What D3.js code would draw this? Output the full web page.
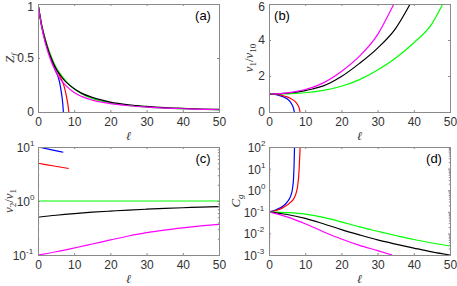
<!DOCTYPE html>
<html>
<head>
<meta charset="utf-8">
<script src="https://cdn.jsdelivr.net/npm/d3@7/dist/d3.min.js"></script>
<style>
  body { margin: 0; background: #fff; }
  svg { display: block; }
  text { font-family: "Liberation Sans", Arial, sans-serif; }
</style>
</head>
<body>
<svg id="chart" width="457" height="286"></svg>
<script>
// x ticks shared by every panel
const ellTicks = [0, 10, 20, 30, 40, 50];

// (a) Z_f vs ell
const zfBlue = [[0,1],[1,0.8],[2,0.66],[3,0.55],[4,0.455],[5,0.37],[5.5,0.33],[6,0.27],[6.5,0.17],[6.8,0.09],[6.95,0.03],[7,0]];
const zfRed = [[0,1],[1,0.81],[2,0.675],[3,0.565],[4,0.475],[5,0.4],[6,0.335],[6.5,0.3],[7,0.26],[7.5,0.2],[8,0.12],[8.3,0.06],[8.5,0]];
const zfGreen = [[0,1],[1,0.81],[2,0.675],[3,0.57],[4,0.485],[5,0.415],[6,0.36],[7,0.315],[8,0.275],[10,0.215],[12,0.17],[15,0.125],[20,0.085],[25,0.061],[30,0.046],[35,0.036],[40,0.029],[45,0.024],[50,0.02]];
const zfBlack = [[0,1],[1,0.8],[2,0.665],[3,0.555],[4,0.47],[5,0.4],[6,0.35],[7,0.305],[8,0.27],[10,0.215],[12,0.175],[15,0.135],[20,0.092],[25,0.067],[30,0.052],[35,0.041],[40,0.034],[45,0.028],[50,0.024]];
const zfMagenta = [[0,1],[1,0.79],[2,0.64],[3,0.53],[4,0.44],[5,0.37],[6,0.31],[7,0.27],[8,0.235],[10,0.18],[12,0.145],[15,0.11],[20,0.078],[25,0.058],[30,0.045],[35,0.036],[40,0.03],[45,0.025],[50,0.021]];

// (b) v1/v10 vs ell
const v1Blue = [[0,1],[1,0.99],[2,0.96],[3,0.91],[4,0.84],[5,0.73],[5.5,0.65],[6,0.53],[6.5,0.35],[6.8,0.18],[7,0]];
const v1Red = [[0,1],[1,0.995],[2,0.98],[3,0.95],[4,0.9],[5,0.84],[6,0.75],[7,0.62],[7.5,0.52],[8,0.37],[8.3,0.24],[8.6,0]];
const v1Green = [[0,1],[5,1.01],[10,1.07],[15,1.2],[20,1.43],[25,1.8],[30,2.33],[35,3.0],[40,3.85],[45,4.9],[48,6]];
const v1Black = [[0,1],[2,1],[4,1.03],[6,1.07],[8,1.12],[10,1.19],[12,1.28],[15,1.45],[20,1.97],[25,2.7],[30,3.55],[35,4.65],[39,6]];
const v1Magenta = [[0,1],[2,1.01],[4,1.04],[6,1.09],[8,1.16],[10,1.25],[12,1.37],[15,1.62],[20,2.25],[25,3.1],[30,4.3],[34,5.8],[34.5,6]];

// (c) v2/v1 vs ell
const v2Blue = [[0,10],[3.5,8.95],[7,8]];
const v2Red = [[0,5],[4,4.5],[8.5,4]];
const v2Green = [[0,1],[50,1]];
const v2Black = [[0,0.5],[5,0.545],[10,0.585],[15,0.62],[20,0.65],[25,0.68],[30,0.705],[35,0.73],[40,0.75],[45,0.77],[50,0.79]];
const v2Magenta = [[0,0.1],[5,0.115],[10,0.135],[15,0.16],[20,0.19],[25,0.225],[30,0.26],[35,0.29],[40,0.318],[45,0.345],[50,0.37]];

// (d) C_g vs ell
const cgBlue = [[0,0.1],[2,0.125],[4,0.19],[5,0.28],[6,0.55],[6.5,1.2],[6.8,4],[6.95,20],[7.05,100]];
const cgRed = [[0,0.1],[2,0.115],[4,0.16],[6,0.28],[7,0.45],[7.5,0.75],[8,2],[8.3,8],[8.5,40],[8.6,100]];
const cgGreen = [[0,0.1],[5,0.092],[10,0.078],[15,0.055],[20,0.034],[25,0.02],[30,0.0126],[35,0.008],[40,0.0052],[45,0.0036],[50,0.0026]];
const cgBlack = [[0,0.1],[5,0.075],[10,0.05],[15,0.028],[20,0.015],[25,0.0085],[30,0.005],[35,0.0032],[40,0.0021],[45,0.0014],[50,0.001]];
const cgMagenta = [[0,0.1],[5,0.058],[10,0.028],[15,0.012],[20,0.0055],[25,0.0028],[30,0.0016],[34,0.001]];

const colors = { blue: '#0000ff', red: '#ff0000', green: '#00ff00', black: '#000000', magenta: '#ff00ff' };
const axisColor = '#8a8a8a';
const textColor = '#333333';

const panels = [
  { x: 38, y: 4, tag: '(a)', tagPos: 'right', log: false, yDomain: [0, 1], yTicks: [0, 0.5, 1],
    yLabel: [['Z', 0], ['f', 1]], yLabelX: 14,
    series: [[zfBlue, 'blue'], [zfRed, 'red'], [zfGreen, 'green'], [zfBlack, 'black'], [zfMagenta, 'magenta']] },
  { x: 269, y: 4, tag: '(b)', tagPos: 'left', log: false, yDomain: [0, 6], yTicks: [0, 2, 4, 6],
    yLabel: [['v', 0], ['1', 2], ['/', 3], ['v', 0], ['10', 2]], yLabelX: 253,
    series: [[v1Blue, 'blue'], [v1Red, 'red'], [v1Green, 'green'], [v1Black, 'black'], [v1Magenta, 'magenta']] },
  { x: 38, y: 147, tag: '(c)', tagPos: 'right', log: true, yDomain: [0.1, 10], yExp: [-1, 0, 1],
    yLabel: [['v', 0], ['2', 2], ['/', 3], ['v', 0], ['1', 2]], yLabelX: 13,
    series: [[v2Blue, 'blue'], [v2Red, 'red'], [v2Green, 'green'], [v2Black, 'black'], [v2Magenta, 'magenta']] },
  { x: 269, y: 147, tag: '(d)', tagPos: 'right', log: true, yDomain: [1e-3, 100], yExp: [-3, -2, -1, 0, 1, 2],
    yLabel: [['C', 0], ['g', 1]], yLabelX: 240,
    series: [[cgBlue, 'blue'], [cgRed, 'red'], [cgGreen, 'green'], [cgBlack, 'black'], [cgMagenta, 'magenta']] }
];

const W = 181, H = 108, tickLen = 2;
const svg = d3.select('#chart');

panels.forEach((p, pi) => {
  const g = svg.append('g').attr('transform', `translate(${p.x},${p.y})`);

  const xScale = d3.scaleLinear().domain([0, 50]).range([0, W]);
  const yScale = (p.log ? d3.scaleLog() : d3.scaleLinear()).domain(p.yDomain).range([H, 0]);

  // clip so curves leaving the box are cut at the frame
  const clipId = 'clip' + pi;
  g.append('clipPath').attr('id', clipId)
    .append('rect').attr('width', W).attr('height', H);

  const line = d3.line()
    .x(d => xScale(d[0]))
    .y(d => yScale(d[1]))
    .curve(d3.curveMonotoneX);

  g.append('g').attr('clip-path', `url(#${clipId})`)
    .selectAll('path')
    .data(p.series)
    .enter()
    .append('path')
    .attr('d', d => line(d[0]))
    .attr('fill', 'none')
    .attr('stroke', d => colors[d[1]])
    .attr('stroke-width', 1.2);

  // frame
  g.append('rect')
    .attr('width', W).attr('height', H)
    .attr('fill', 'none')
    .attr('stroke', axisColor)
    .attr('stroke-width', 1)
    .attr('shape-rendering', 'crispEdges');

  // x ticks (inward, top and bottom)
  const xAxisB = g.append('g').attr('transform', `translate(0,${H})`)
    .call(d3.axisBottom(xScale).tickValues(ellTicks).tickSizeInner(-tickLen).tickSizeOuter(0).tickPadding(5));
  const xAxisT = g.append('g')
    .call(d3.axisTop(xScale).tickValues(ellTicks).tickSizeInner(-tickLen).tickSizeOuter(0).tickFormat(''));
  [xAxisB, xAxisT].forEach(a => {
    a.select('.domain').remove();
    a.selectAll('.tick line').attr('stroke', axisColor);
  });
  xAxisB.selectAll('text').attr('fill', textColor).style('font-size', '12px');

  // y ticks
  let majors, minors = [];
  if (p.log) {
    majors = p.yExp.map(e => Math.pow(10, e));
    for (let e = p.yExp[0]; e < p.yExp[p.yExp.length - 1]; e++) {
      for (let k = 2; k <= 9; k++) minors.push(k * Math.pow(10, e));
    }
  } else {
    majors = p.yTicks;
  }
  const yAxisL = g.append('g')
    .call(d3.axisLeft(yScale).tickValues(majors).tickSizeInner(-tickLen).tickSizeOuter(0).tickFormat(''));
  const yAxisR = g.append('g').attr('transform', `translate(${W},0)`)
    .call(d3.axisRight(yScale).tickValues(majors).tickSizeInner(-tickLen).tickSizeOuter(0).tickFormat(''));
  const axes = [yAxisL, yAxisR];
  if (minors.length) {
    axes.push(g.append('g')
      .call(d3.axisLeft(yScale).tickValues(minors).tickSizeInner(-1.2).tickSizeOuter(0).tickFormat('')));
    axes.push(g.append('g').attr('transform', `translate(${W},0)`)
      .call(d3.axisRight(yScale).tickValues(minors).tickSizeInner(-1.2).tickSizeOuter(0).tickFormat('')));
  }
  axes.forEach(a => {
    a.select('.domain').remove();
    a.selectAll('.tick line').attr('stroke', axisColor);
  });

  // y tick labels
  if (p.log) {
    p.yExp.forEach(e => {
      const base = yScale(Math.pow(10, e)) + 5;
      g.append('text')
        .attr('x', -4 - (e < 0 ? 8 : 4))
        .attr('y', base)
        .attr('text-anchor', 'end')
        .attr('fill', textColor)
        .style('font-size', '12px')
        .text('10');
      g.append('text')
        .attr('x', -4 - (e < 0 ? 8 : 4))
        .attr('y', base - 6)
        .attr('text-anchor', 'start')
        .attr('fill', textColor)
        .style('font-size', '8px')
        .text(e < 0 ? '-' + Math.abs(e) : String(e));
    });
  } else {
    majors.forEach(v => {
      g.append('text')
        .attr('x', -4)
        .attr('y', Math.max(yScale(v) + 4, 11 - p.y))
        .attr('text-anchor', 'end')
        .attr('fill', textColor)
        .style('font-size', '12px')
        .text(v);
    });
  }

  // x label (script l)
  g.append('text')
    .attr('x', W / 2)
    .attr('y', H + 28)
    .attr('text-anchor', 'middle')
    .attr('fill', textColor)
    .style('font-family', '"DejaVu Serif", serif')
    .style('font-style', 'italic')
    .style('font-size', '12px')
    .text('\u2113');

  // y label, rotated, tex-like
  const yl = svg.append('text')
    .attr('transform', `translate(${p.yLabelX},${p.y + H / 2}) rotate(-90)`)
    .attr('text-anchor', 'middle')
    .attr('fill', textColor)
    .style('font-family', '"Liberation Serif", "DejaVu Serif", serif')
    .style('font-size', '13px');
  let shifted = false;
  p.yLabel.forEach(([s, kind]) => {
    const ts = yl.append('tspan').text(s);
    if (kind === 1 || kind === 2) {
      ts.attr('dy', shifted ? 0 : 3).style('font-size', '9px');
      if (kind === 1) ts.style('font-style', 'italic');
      shifted = true;
    } else {
      if (shifted) ts.attr('dy', -3);
      shifted = false;
      if (kind === 0) ts.style('font-style', 'italic');
    }
  });

  // panel tag
  g.append('text')
    .attr('x', p.tagPos === 'right' ? W - 16 : 13)
    .attr('y', 16)
    .attr('text-anchor', 'middle')
    .attr('fill', '#000')
    .style('font-size', '13px')
    .text(p.tag);
});
</script>
</body>
</html>
